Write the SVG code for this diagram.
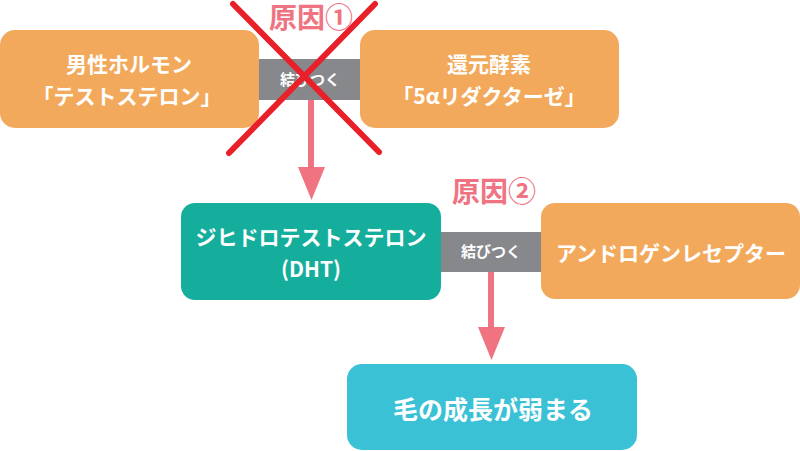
<svg xmlns="http://www.w3.org/2000/svg" width="800" height="451" viewBox="0 0 800 451">
<style>
text{font-family:"Noto Sans CJK JP","Noto Sans",sans-serif;font-weight:bold;text-anchor:middle}
.o{fill:#f3a95c}.g{fill:#15ae9c}.c{fill:#3bc1d6}.band{fill:#87888b}
.w{fill:#fff;font-size:21px}.s{fill:#fff;font-size:15px}
.cause{fill:#f07382;font-size:28px}
.arr{stroke:#f07382;stroke-width:6;fill:none}
.head{fill:#f07382}
.x{stroke:#e8202a;stroke-width:6;stroke-linecap:round}
</style>
<g id="connectors">
<rect class="band" x="255" y="59" width="110" height="41"/>
<text class="s" x="310" y="85">結びつく</text>
<line class="arr" x1="311" y1="100" x2="311" y2="170"/>
<polygon class="head" points="298,167 325,167 311.5,200"/>
<rect class="band" x="436" y="232" width="110" height="40"/>
<text class="s" x="491" y="257">結びつく</text>
<line class="arr" x1="491" y1="272" x2="491" y2="330"/>
<polygon class="head" points="478,327 505,327 491.5,360"/>
</g>
<g id="testosterone">
<rect class="o" x="0" y="30" width="259" height="98" rx="15"/>
<text class="w" x="129" y="72">男性ホルモン</text>
<text class="w" x="127" y="104">「テストステロン」</text>
</g>
<g id="reductase">
<rect class="o" x="360" y="30" width="259" height="98" rx="15"/>
<text class="w" x="489" y="72">還元酵素</text>
<text class="w" x="489" y="104">「5αリダクターゼ」</text>
</g>
<g id="dht">
<rect class="g" x="181" y="203" width="260" height="97" rx="14"/>
<text class="w" x="311" y="245">ジヒドロテストステロン</text>
<text class="w" x="311" y="277">(DHT)</text>
</g>
<g id="receptor">
<rect class="o" x="541" y="203" width="259" height="96" rx="14"/>
<text class="w" x="671" y="261">アンドロゲンレセプター</text>
</g>
<g id="result">
<rect class="c" x="347" y="364" width="290" height="86" rx="15"/>
<text class="w" x="493" y="419" style="font-size:25px">毛の成長が弱まる</text>
</g>
<g id="cause1">
<text class="cause" x="311" y="28">原因①</text>
<line class="x" x1="233" y1="4" x2="379" y2="152"/>
<line class="x" x1="375" y1="4" x2="229" y2="153"/>
</g>
<g id="cause2">
<text class="cause" x="494" y="202">原因②</text>
</g>
</svg>
